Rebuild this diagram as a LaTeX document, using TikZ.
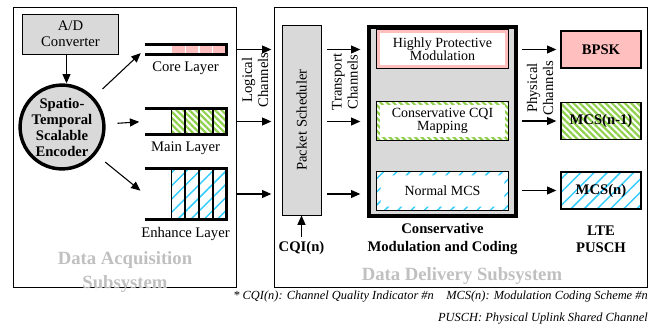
\documentclass[tikz,border=0pt]{standalone}
\usepackage{fontspec}
\setmainfont{Liberation Serif}
\usepackage{graphicx}
\usetikzlibrary{arrows.meta, positioning, calc, patterns.meta}

\definecolor{boxgray}{HTML}{D9D9D9}
\definecolor{pinkc}{HTML}{FFBFBF}
\definecolor{greenc}{HTML}{92D050}
\definecolor{bluec}{HTML}{33CCFF}
\definecolor{subgray}{HTML}{C0C0C0}

\begin{document}
\begin{tikzpicture}[
  x=0.75pt, y=-0.75pt,
  font=\fontsize{11}{12}\selectfont,
  panel/.style={rectangle, draw, line width=0.8pt, minimum height=210.5pt},
  graybox/.style={rectangle, draw, fill=boxgray, line width=0.7pt, align=center, inner sep=1pt},
  buffer/.style={rectangle, minimum width=61pt, inner sep=0pt},
  bufline/.style={line width=2.6pt},
  inbox/.style={rectangle, fill=white, minimum width=98pt, minimum height=28.5pt, align=center, inner sep=1pt, font=\fontsize{10.5}{10}\selectfont},
  outbox/.style={rectangle, draw, line width=1pt, minimum width=60pt, minimum height=27.75pt, font=\fontsize{11}{12}\selectfont\bfseries},
  greenhatch/.style={pattern={Lines[angle=-45,distance=3.4pt,line width=1.7pt]}, pattern color=greenc},
  bluehatch/.style={pattern={Lines[angle=45,distance=7pt,line width=1.1pt]}, pattern color=bluec},
  chan/.style={rotate=90, align=center, inner sep=0pt, font=\fontsize{11}{12}\selectfont},
  boldlbl/.style={align=center, font=\fontsize{11}{13}\selectfont\bfseries},
  subsys/.style={align=center, text=subgray, font=\fontsize{14}{18}\selectfont\bfseries},
  arr/.style={-{Triangle[length=7pt,width=6pt]}, line width=0.8pt}
]
\useasboundingbox (0,0) rectangle (669,331);

\node[panel, minimum width=167.5pt] (acq) at (125,147.5) {};
\node[panel, minimum width=279.7pt] (dlv) at (461,147.5) {};

\node[graybox, minimum width=72pt, minimum height=30pt] (ad) at (70.5,34) {A/D\\Converter};
\node[graybox, circle, line width=2.6pt, minimum size=57.5pt, inner sep=0pt, font=\fontsize{11}{12}\selectfont\bfseries] (enc) at (62,127) {Spatio-\\Temporal\\Scalable\\Encoder};

\node[buffer, minimum height=7.2pt] (core) at (185.5,49.5) {};
\node[buffer, minimum height=19pt] (main) at (185.5,121.5) {};
\node[buffer, minimum height=38pt] (enh) at (185.5,194) {};

\fill[pinkc] ([xshift=20.25pt]core.north west) rectangle (core.south east);
\foreach \i in {1,2,3}
  \draw[white, line width=1pt] ($([xshift=20.25pt]core.north west)!\i/4!(core.north east)$) -- ($([xshift=20.25pt]core.south west)!\i/4!(core.south east)$);
\fill[greenhatch] ([xshift=20.25pt]main.north west) rectangle (main.south east);
\foreach \i in {0,1,2,3}
  \draw[line width=1.2pt] ($([xshift=20.25pt]main.north west)!\i/4!(main.north east)$) -- ($([xshift=20.25pt]main.south west)!\i/4!(main.south east)$);
\fill[bluehatch] ([xshift=20.25pt]enh.north west) rectangle (enh.south east);
\foreach \i in {0,1,2,3}
  \draw[line width=1.2pt] ($([xshift=20.25pt]enh.north west)!\i/4!(enh.north east)$) -- ($([xshift=20.25pt]enh.south west)!\i/4!(enh.south east)$);
\foreach \b in {core,main,enh}
  \draw[bufline] (\b.north west) -- (\b.north east) -- (\b.south east) -- (\b.south west);

\node[below=2pt of core] (corelbl) {Core Layer};
\node[below=2pt of main] (mainlbl) {Main Layer};
\node[below=2pt of enh] (enhlbl) {Enhance Layer};
\node[subsys] (acqlbl) at (125,272) {Data Acquisition\\Subsystem};

\node[graybox, minimum width=29.25pt, minimum height=142.5pt] (sched) at (301.5,120) {\rotatebox{90}{Packet Scheduler}};
\node[boldlbl] (cqi) at (301.5,248) {CQI(n)};

\node[rectangle, draw, line width=3pt, fill=boxgray, minimum width=110.25pt, minimum height=141.75pt] (mod) at (442.5,121.5) {};
\node[inbox] (hp) at (442.5,49) {Highly Protective\\Modulation};
\node[inbox] (cm) at (442.5,121) {Conservative CQI\\Mapping};
\node[inbox] (nm) at (442.5,191) {Normal MCS};
\draw[pinkc, line width=2.2pt] ([shift={(1.1pt,-1.1pt)}]hp.north west) rectangle ([shift={(-1.1pt,1.1pt)}]hp.south east);
\fill[greenhatch, even odd rule] (cm.north west) rectangle (cm.south east) ([shift={(2.3pt,-2.3pt)}]cm.north west) rectangle ([shift={(-2.3pt,2.3pt)}]cm.south east);
\fill[bluehatch, even odd rule] (nm.north west) rectangle (nm.south east) ([shift={(2.8pt,-2.8pt)}]nm.north west) rectangle ([shift={(-2.8pt,2.8pt)}]nm.south east);
\foreach \b in {hp,cm,nm}
  \draw[line width=0.7pt] (\b.north west) rectangle (\b.south east);
\node[boldlbl] (modlbl) at (442.5,239) {Conservative\\Modulation and Coding};

\node[outbox, fill=pinkc] (bpsk) at (601,49.5) {BPSK};
\node[outbox, greenhatch] (mcsa) at (601,121) {MCS(n-1)};
\node[outbox, bluehatch] (mcsb) at (601,190.5) {MCS(n)};
\node[boldlbl] (ltelbl) at (601,239) {LTE\\PUSCH};
\node[subsys] (dlvlbl) at (462,276) {Data Delivery Subsystem};

\foreach \b in {core,main,enh} {
  \draw[arr, shorten <=9pt, shorten >=4pt] (enc) -- (\b.west);
  \draw[arr, shorten >=2pt] (acq.east |- \b.east) -- (dlv.west |- \b.east);
  \draw[arr, shorten <=4pt, shorten >=5pt] (sched.east |- \b.east) -- (mod.west |- \b.east);
}
\foreach \b in {bpsk,mcsa,mcsb}
  \draw[arr, shorten <=3pt, shorten >=3pt] (mod.east |- \b.west) -- (\b.west);
\draw[arr] ([xshift=-3pt]ad.south) -- ([xshift=-3pt]ad.south |- enc.north);
\draw[arr] (cqi) -- (sched);

\node[chan] (logical) at (255,80) {Logical\\Channels};
\node[chan] (transport) at (345,82) {Transport\\Channels};
\node[chan] (physical) at (540,88) {Physical\\Channels};

\node[anchor=north east, align=right, inner sep=0pt, font=\fontsize{9.3}{16}\selectfont\itshape] (fnote) at (648,291) {* CQI(n): Channel Quality Indicator \#n\quad MCS(n): Modulation Coding Scheme \#n\\PUSCH: Physical Uplink Shared Channel};
\end{tikzpicture}
\end{document}
